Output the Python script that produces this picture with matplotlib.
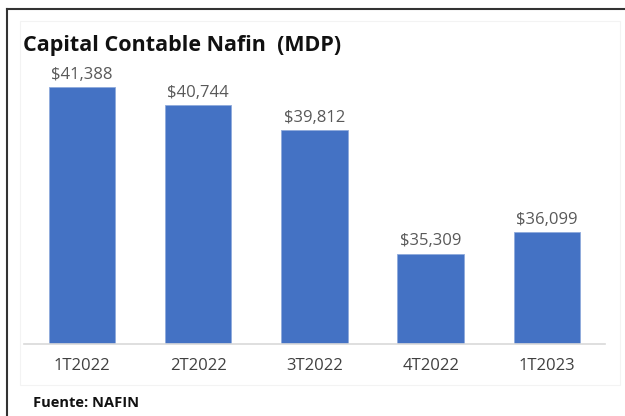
import matplotlib.pyplot as plt
from matplotlib.lines import Line2D
from matplotlib.patches import Rectangle

plt.rcParams['font.family'] = ['Open Sans', 'DejaVu Sans']

# Capital contable Nafin (millones de pesos)
periodos = ['1T2022', '2T2022', '3T2022', '4T2022', '1T2023']
capital = [41388, 40744, 39812, 35309, 36099]

fig = plt.figure(figsize=(6.25, 4.16), dpi=100)
ax = fig.add_axes([0.038, 0.173, 0.93, 0.69])

x = range(len(periodos))
bars = ax.bar(x, capital, width=0.57, color='#4472c4', edgecolor='#8faadc', linewidth=0.6, zorder=2)

for b, v in zip(bars, capital):
    ax.annotate(f'${v:,}', (b.get_x() + b.get_width() / 2, v), xytext=(0, 3),
                textcoords='offset points', ha='center', va='bottom',
                fontsize=12, color='#595959')

ax.set_ylim(32000, 42500)
ax.set_xlim(-0.5, len(periodos) - 0.5)
ax.set_xticks(list(x))
ax.set_xticklabels(periodos, fontsize=12, color='#404040')
ax.tick_params(axis='x', length=0, pad=10)
ax.set_yticks([])
for s in ['top', 'right', 'left']:
    ax.spines[s].set_visible(False)
ax.spines['bottom'].set_color('#d9d9d9')
ax.spines['bottom'].set_linewidth(1.2)

fig.text(0.037, 0.89, 'Capital Contable Nafin  (MDP)', fontsize=15.5, fontweight='bold',
         color='#111111', va='center')
fig.text(0.053, 0.032, 'Fuente: NAFIN', fontsize=10.5, fontweight='bold', color='#111111', va='center')

# marco exterior
fig.add_artist(Rectangle((0.032, 0.075), 0.96, 0.875, transform=fig.transFigure,
                         fill=False, edgecolor='#f3f3f3', linewidth=0.8))
fig.add_artist(Line2D([0.011, 1.0], [0.978, 0.978], transform=fig.transFigure, color='#333333', lw=1.5))
fig.add_artist(Line2D([0.011, 0.011], [0.0, 0.978], transform=fig.transFigure, color='#333333', lw=1.5))

fig.savefig('out.png', dpi=100)
